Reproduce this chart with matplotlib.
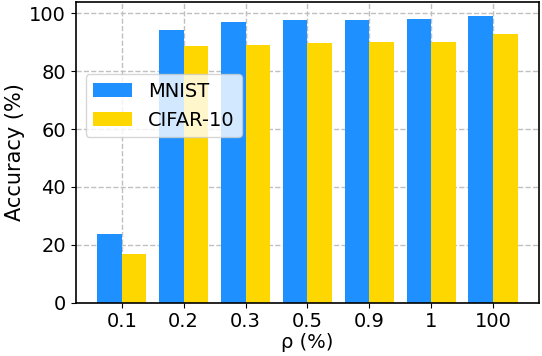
import matplotlib
matplotlib.use('Agg')
import matplotlib.pyplot as plt
import numpy as np

rho_labels = ['0.1', '0.2', '0.3', '0.5', '0.9', '1', '100']
mnist_acc = [23.7, 94.4, 97.1, 97.6, 97.8, 97.9, 99.0]
cifar_acc = [16.8, 88.8, 89.2, 89.6, 90.1, 90.2, 92.7]

x = np.arange(len(rho_labels))
width = 0.4

fig = plt.figure(figsize=(5.42, 3.56), dpi=100)
ax = fig.add_axes([0.140, 0.150, 0.8545, 0.8445])
ax.set_axisbelow(True)
ax.grid(True, linestyle='--', color='#c0c0c0', linewidth=1.0)

ax.bar(x - width / 2, mnist_acc, width, color='dodgerblue', label='MNIST')
ax.bar(x + width / 2, cifar_acc, width, color='gold', label='CIFAR-10')

ax.set_xticks(x)
ax.set_xticklabels(rho_labels)
ax.tick_params(labelsize=14)
ax.set_xlabel('ρ (%)', fontsize=14, labelpad=1)
ax.set_ylabel('Accuracy (%)', fontsize=15, labelpad=3)
for s in ax.spines.values():
    s.set_linewidth(1.2)

ax.legend(loc='center left', bbox_to_anchor=(0.0, 0.655), fontsize=14)

fig.savefig('out.png', dpi=100)
